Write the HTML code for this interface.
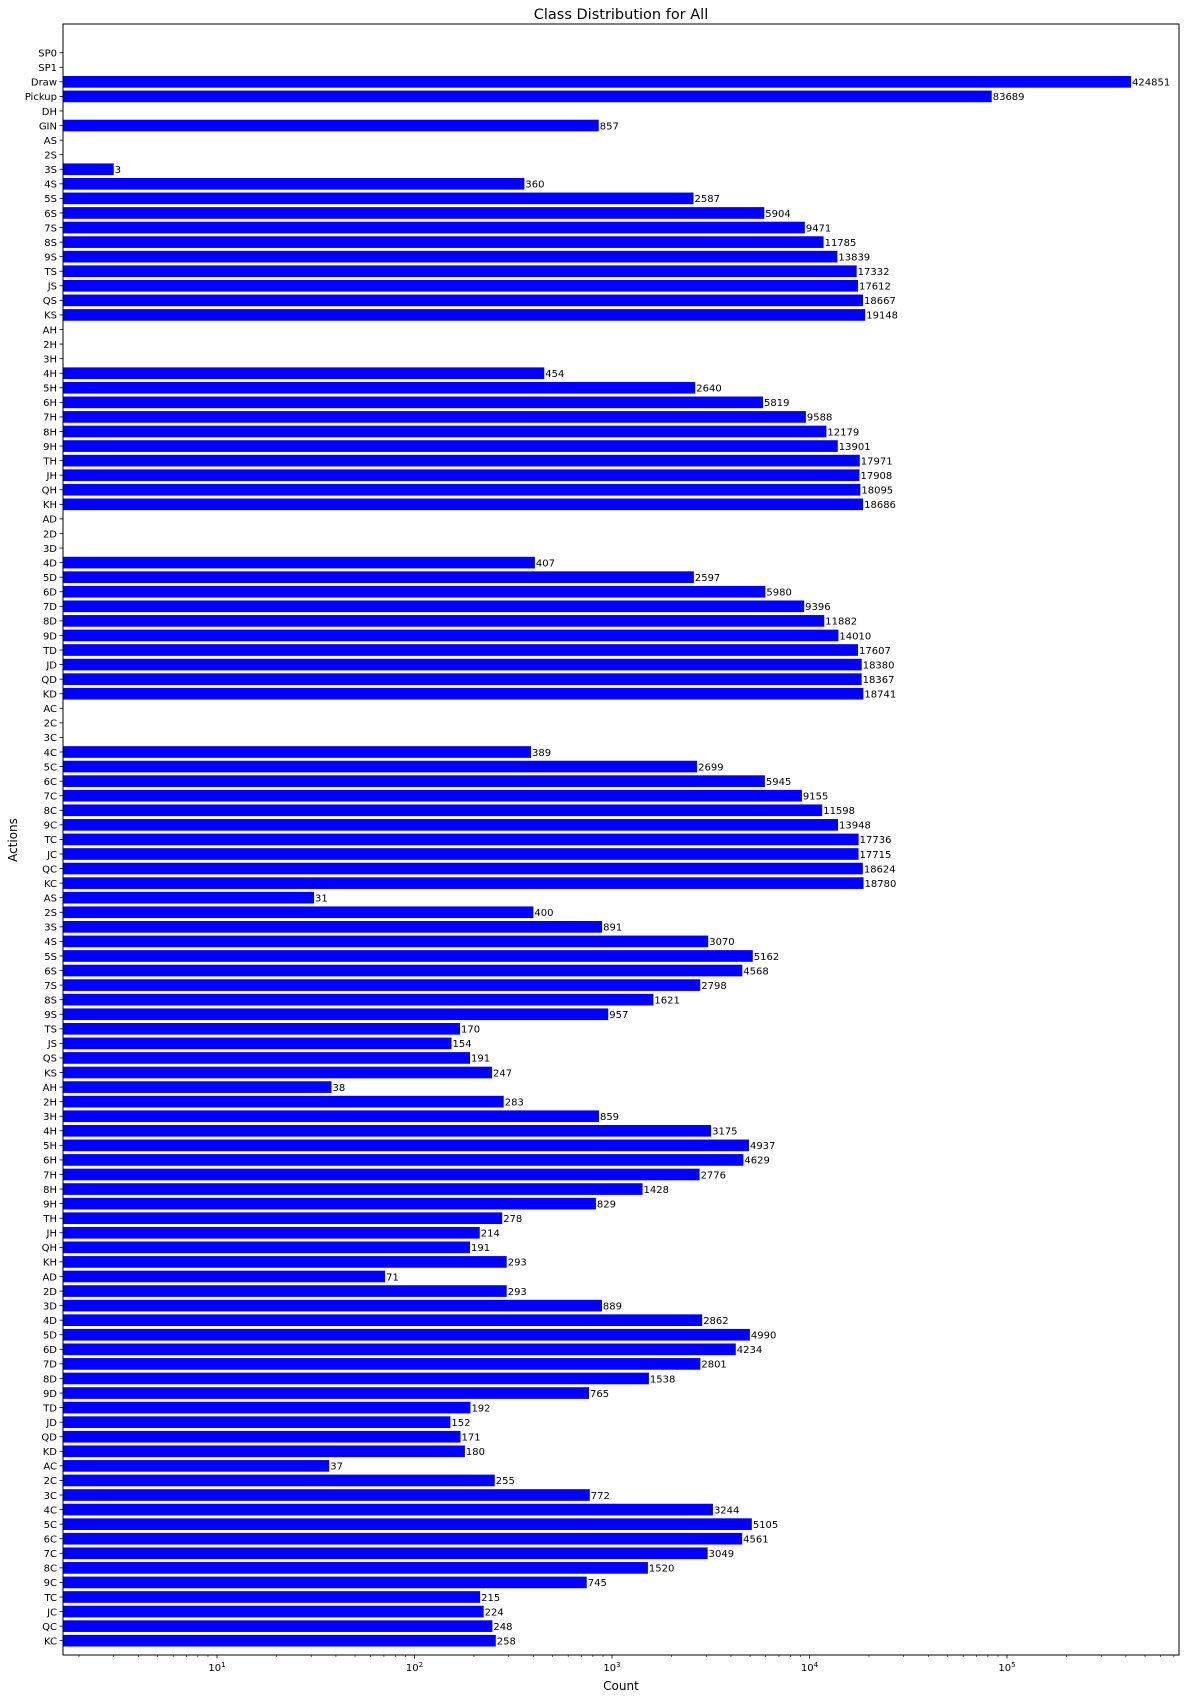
<!DOCTYPE html>
<html><head><meta charset="utf-8"><style>
body{margin:0;background:#fff;}
svg{display:block;font-family:"DejaVu Sans","Liberation Sans",sans-serif;}
</style></head><body>
<svg id="chart" width="1186" height="1700" xmlns="http://www.w3.org/2000/svg">
<text x="621" y="19" font-size="14.5" text-anchor="middle" fill="#000">Class Distribution for All</text>
<text x="17" y="840" font-size="12" text-anchor="middle" transform="rotate(-90 17 840)">Actions</text>
<text x="621" y="1690" font-size="12" text-anchor="middle">Count</text>
<g id="plot"></g>
<rect x="63" y="24" width="1116" height="1631" fill="none" stroke="#000" stroke-width="1"/>
</svg>
<script>
const categories = ["SP0","SP1","Draw","Pickup","DH","GIN",
"AS","2S","3S","4S","5S","6S","7S","8S","9S","TS","JS","QS","KS",
"AH","2H","3H","4H","5H","6H","7H","8H","9H","TH","JH","QH","KH",
"AD","2D","3D","4D","5D","6D","7D","8D","9D","TD","JD","QD","KD",
"AC","2C","3C","4C","5C","6C","7C","8C","9C","TC","JC","QC","KC",
"AS","2S","3S","4S","5S","6S","7S","8S","9S","TS","JS","QS","KS",
"AH","2H","3H","4H","5H","6H","7H","8H","9H","TH","JH","QH","KH",
"AD","2D","3D","4D","5D","6D","7D","8D","9D","TD","JD","QD","KD",
"AC","2C","3C","4C","5C","6C","7C","8C","9C","TC","JC","QC","KC"];
const counts = [0,0,424851,83689,0,857,
0,0,3,360,2587,5904,9471,11785,13839,17332,17612,18667,19148,
0,0,0,454,2640,5819,9588,12179,13901,17971,17908,18095,18686,
0,0,0,407,2597,5980,9396,11882,14010,17607,18380,18367,18741,
0,0,0,389,2699,5945,9155,11598,13948,17736,17715,18624,18780,
31,400,891,3070,5162,4568,2798,1621,957,170,154,191,247,
38,283,859,3175,4937,4629,2776,1428,829,278,214,191,293,
71,293,889,2862,4990,4234,2801,1538,765,192,152,171,180,
37,255,772,3244,5105,4561,3049,1520,745,215,224,248,258];
const tickExps = [1,2,3,4,5];

const NS="http://www.w3.org/2000/svg";
const g=document.getElementById('plot');
const L=63,R=1179,T=24,B=1655;
const x0=19.5, dec=197.5;
function xs(v){return x0+Math.log10(v)*dec;}
const y0=52.7, step=(1640.7-52.7)/(categories.length-1);
function ys(i){return y0+i*step;}
function mk(tag,attrs){const e=document.createElementNS(NS,tag);for(const k in attrs)e.setAttribute(k,attrs[k]);g.appendChild(e);return e;}
const bh=step*0.8;
categories.forEach((c,i)=>{
  const y=ys(i);
  const t=mk('line',{x1:L-3.5,x2:L,y1:y,y2:y,stroke:'#000','stroke-width':0.8});
  
  
  const lb=mk('text',{x:L-6,y:y+3.8,'font-size':10,'text-anchor':'end',fill:'#000'});
  lb.textContent=c;
  
  
  const v=counts[i];
  if(v>0){
    const xe=xs(v);
    const r=mk('rect',{x:L,y:y-bh/2,width:Math.max(0,xe-L),height:bh,fill:'#0000ff'});
    
    
    const vl=mk('text',{x:xe+1,y:y+3.8,'font-size':10,fill:'#000'});
    vl.textContent=v;
    
    
  }
});
for(let e=0;e<=5;e++){for(let m=2;m<=9;m++){const x=xs(m*Math.pow(10,e));if(x>L&&x<R){
  const t=mk('line',{x1:x,x2:x,y1:B,y2:B+2,stroke:'#000','stroke-width':0.6});
  
  }}}
tickExps.forEach(e=>{
  const x=xs(Math.pow(10,e));
  const t=mk('line',{x1:x,x2:x,y1:B,y2:B+3.5,stroke:'#000','stroke-width':0.8});
  
  
  const lb=mk('text',{x:x,y:B+16,'font-size':10,'text-anchor':'middle',fill:'#000'});
  lb.innerHTML='10<tspan font-size="7" dy="-4">'+e+'</tspan>';
  
  
});
</script>
</body></html>
